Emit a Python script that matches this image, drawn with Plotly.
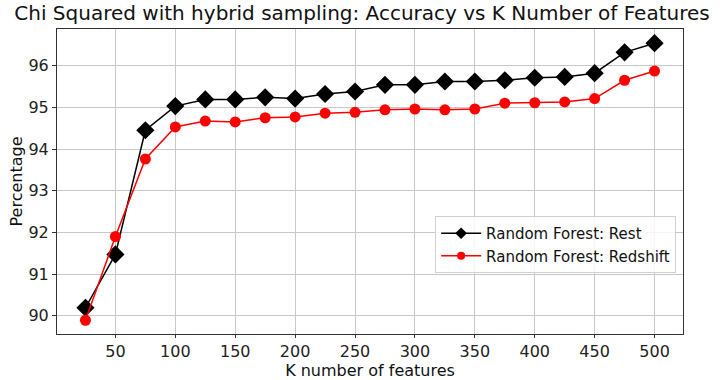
import plotly.graph_objects as go

k_features = [25, 50, 75, 100, 125, 150, 175, 200, 225, 250, 275, 300, 325, 350, 375, 400, 425, 450, 475, 500]
rest_acc = [90.19, 91.47, 94.45, 95.03, 95.19, 95.19, 95.24, 95.21, 95.32, 95.38, 95.54, 95.54, 95.62, 95.62, 95.65, 95.71, 95.73, 95.82, 96.32, 96.54]
redshift_acc = [89.89, 91.90, 93.76, 94.53, 94.67, 94.65, 94.75, 94.77, 94.86, 94.88, 94.94, 94.96, 94.94, 94.96, 95.10, 95.11, 95.13, 95.21, 95.65, 95.87]
x_ticks = [50, 100, 150, 200, 250, 300, 350, 400, 450, 500]
y_ticks = [90, 91, 92, 93, 94, 95, 96]
series_names = ["Random Forest: Rest", "Random Forest: Redshift"]

font = "DejaVu Sans"

fig = go.Figure()
fig.add_trace(go.Scatter(
    x=k_features, y=rest_acc, mode="lines+markers", name=series_names[0],
    line=dict(color="black", width=1.5),
    marker=dict(symbol="diamond", size=14, color="black"),
    showlegend=False,
))
fig.add_trace(go.Scatter(
    x=k_features, y=redshift_acc, mode="lines+markers", name=series_names[1],
    line=dict(color="red", width=1.5),
    marker=dict(symbol="circle", size=11, color="red"),
    showlegend=False,
))
# legend entries with smaller symbols (as in the reference)
fig.add_trace(go.Scatter(
    x=[None], y=[None], mode="lines+markers", name=series_names[0],
    line=dict(color="black", width=1.5),
    marker=dict(symbol="diamond", size=9, color="black"),
))
fig.add_trace(go.Scatter(
    x=[None], y=[None], mode="lines+markers", name=series_names[1],
    line=dict(color="red", width=1.5),
    marker=dict(symbol="circle", size=8, color="red"),
))

axis_common = dict(
    showline=True, linecolor="#333333", linewidth=1, mirror=True,
    showgrid=True, gridcolor="#c8c8c8", gridwidth=1,
    ticks="outside", tickcolor="#333333",
    tickfont=dict(family=font, size=16, color="#222222"),
    zeroline=False, automargin=False,
)

fig.update_layout(
    width=724, height=380,
    margin=dict(l=57, r=41, t=29, b=46),
    paper_bgcolor="white", plot_bgcolor="white",
    title=dict(text="Chi Squared with hybrid sampling: Accuracy vs K Number of Features",
               font=dict(family=font, size=20, color="#111111"),
               x=0.5, xanchor="center", y=0.985, yanchor="top"),
    xaxis=dict(range=[1.25, 523.75], tickvals=x_ticks, ticklen=3,
               title=dict(text="K number of features", font=dict(family=font, size=16, color="#111111"), standoff=0),
               **axis_common),
    yaxis=dict(range=[89.56, 96.88], tickvals=y_ticks, ticklen=4,
               title=dict(text="Percentage", font=dict(family=font, size=16, color="#111111"), standoff=1),
               **axis_common),
    legend=dict(x=0.989, y=0.2, xanchor="right", yanchor="bottom",
                bgcolor="rgba(255,255,255,0.85)", bordercolor="#d0d0d0", borderwidth=1,
                font=dict(family=font, size=15, color="#111111"),
                itemwidth=40),
    showlegend=True,
)

fig.write_html("out.html")
